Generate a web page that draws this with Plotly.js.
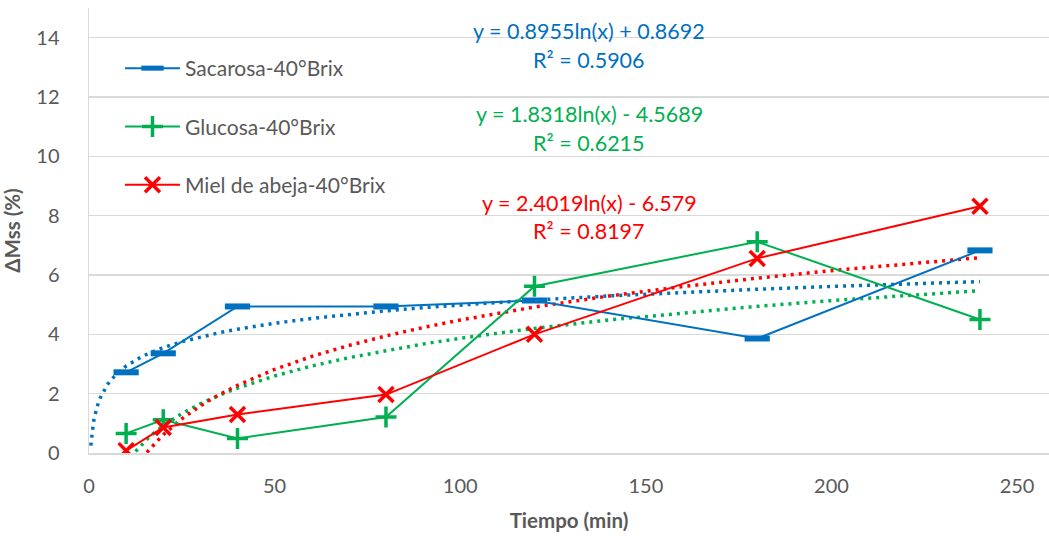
<!DOCTYPE html>
<html><head><meta charset="utf-8">
<script src="https://cdn.plot.ly/plotly-3.0.1.min.js"></script>
<style>body{margin:0;background:#fff}#c{width:1049px;height:536px}</style>
</head><body><div id="c"></div>
<script>
const tiempo = [10, 20, 40, 80, 120, 180, 240];
const sacarosa = [2.72, 3.36, 4.94, 4.94, 5.14, 3.86, 6.83];
const glucosa = [0.66, 1.12, 0.49, 1.21, 5.62, 7.12, 4.5];
const miel = [0.08, 0.86, 1.3, 1.97, 4.0, 6.56, 8.32];
const seriesNames = ['Sacarosa-40°Brix', 'Glucosa-40°Brix', 'Miel de abeja-40°Brix'];
const colors = ['#0070C0', '#00B050', '#FF0000'];
// logarithmic trendline coefficients y = a ln(x) + b (from the chart labels)
const trendA = [0.8955, 1.8318, 2.4019];
const trendB = [0.8692, -4.5689, -6.579];
const trendR2 = ['0.5906', '0.6215', '0.8197'];
const trendSampleX = [0.5,0.6,0.7,0.8,1,1.2,1.5,2,2.5,3,4,5,6,7,8,10,12,14,16,18,20,25,30,35,40,50,60,70,80,90,100,120,140,160,180,200,220,240];

const ys = [sacarosa, glucosa, miel];
const symbols = ['line-ew', 'cross-thin', 'x-thin'];
const msizes = [18, 15, 15];
const mwidths = [6, 3.5, 3.5];
const traces = [];
for (let i = 0; i < 3; i++) {
  traces.push({
    x: trendSampleX,
    y: trendSampleX.map(v => trendA[i] * Math.log(v) + trendB[i]),
    mode: 'lines', showlegend: false, hoverinfo: 'skip',
    line: {color: colors[i], width: 3.5, dash: '3px,5px'}
  });
}
for (let i = 0; i < 3; i++) {
  traces.push({
    x: tiempo, y: ys[i], name: seriesNames[i], legendgroup: 'g' + i,
    mode: 'lines+markers',
    line: {color: colors[i], width: 2},
    marker: {symbol: symbols[i], size: msizes[i], color: colors[i],
             line: {color: colors[i], width: mwidths[i]}}
  });
}
function fmt(a, b) {
  const s = b < 0 ? ' - ' + Math.abs(b) : ' + ' + b;
  return 'y = ' + a + 'ln(x)' + s;
}
const annYs = [[31, 60], [114, 143], [203, 231]];
const annotations = [];
for (let i = 0; i < 3; i++) {
  annotations.push({xref: 'paper', yref: 'paper', x: (589 - 89) / 960, y: 1 - (annYs[i][0] - 8) / 445,
    text: fmt(trendA[i], trendB[i]), showarrow: false, xanchor: 'center', yanchor: 'middle',
    font: {color: colors[i], size: 21.5}});
  annotations.push({xref: 'paper', yref: 'paper', x: (589 - 89) / 960, y: 1 - (annYs[i][1] - 8) / 445,
    text: 'R² = ' + trendR2[i], showarrow: false, xanchor: 'center', yanchor: 'middle',
    font: {color: colors[i], size: 21.5}});
}
const layout = {
  width: 1049, height: 536,
  margin: {l: 89, r: 0, t: 8, b: 83},
  paper_bgcolor: '#fff', plot_bgcolor: '#fff',
  font: {family: 'Lato, "Noto Sans", sans-serif', color: '#595959', size: 20},
  showlegend: true,
  legend: {x: (120 - 89) / 960, y: 1 - (48 - 8) / 445, xanchor: 'left', yanchor: 'top',
    bgcolor: 'rgba(0,0,0,0)', tracegroupgap: 28, itemwidth: 55,
    font: {size: 21, color: '#595959'}},
  xaxis: {range: [0, 258.6], tickvals: [0, 50, 100, 150, 200, 250], showgrid: false,
    showline: true, linecolor: '#D9D9D9', linewidth: 1.5, zeroline: false, ticks: '',
    ticklabelstandoff: 14, tickfont: {size: 20},
    title: {text: '<b>Tiempo (min)</b>', font: {size: 20.5, color: '#595959'}, standoff: 18}},
  yaxis: {range: [0, 15], tickvals: [0, 2, 4, 6, 8, 10, 12, 14], showgrid: true,
    gridcolor: '#D9D9D9', gridwidth: 1.5, showline: true, linecolor: '#D9D9D9', linewidth: 1.5,
    zeroline: false, ticks: '', ticklabelstandoff: 24, tickfont: {size: 20},
    title: {text: '<b>ΔMss (%)</b>', font: {size: 20.5, color: '#595959'}, standoff: 20}},
  annotations: annotations
};
Plotly.newPlot('c', traces, layout, {displayModeBar: false, staticPlot: true});
</script></body></html>
